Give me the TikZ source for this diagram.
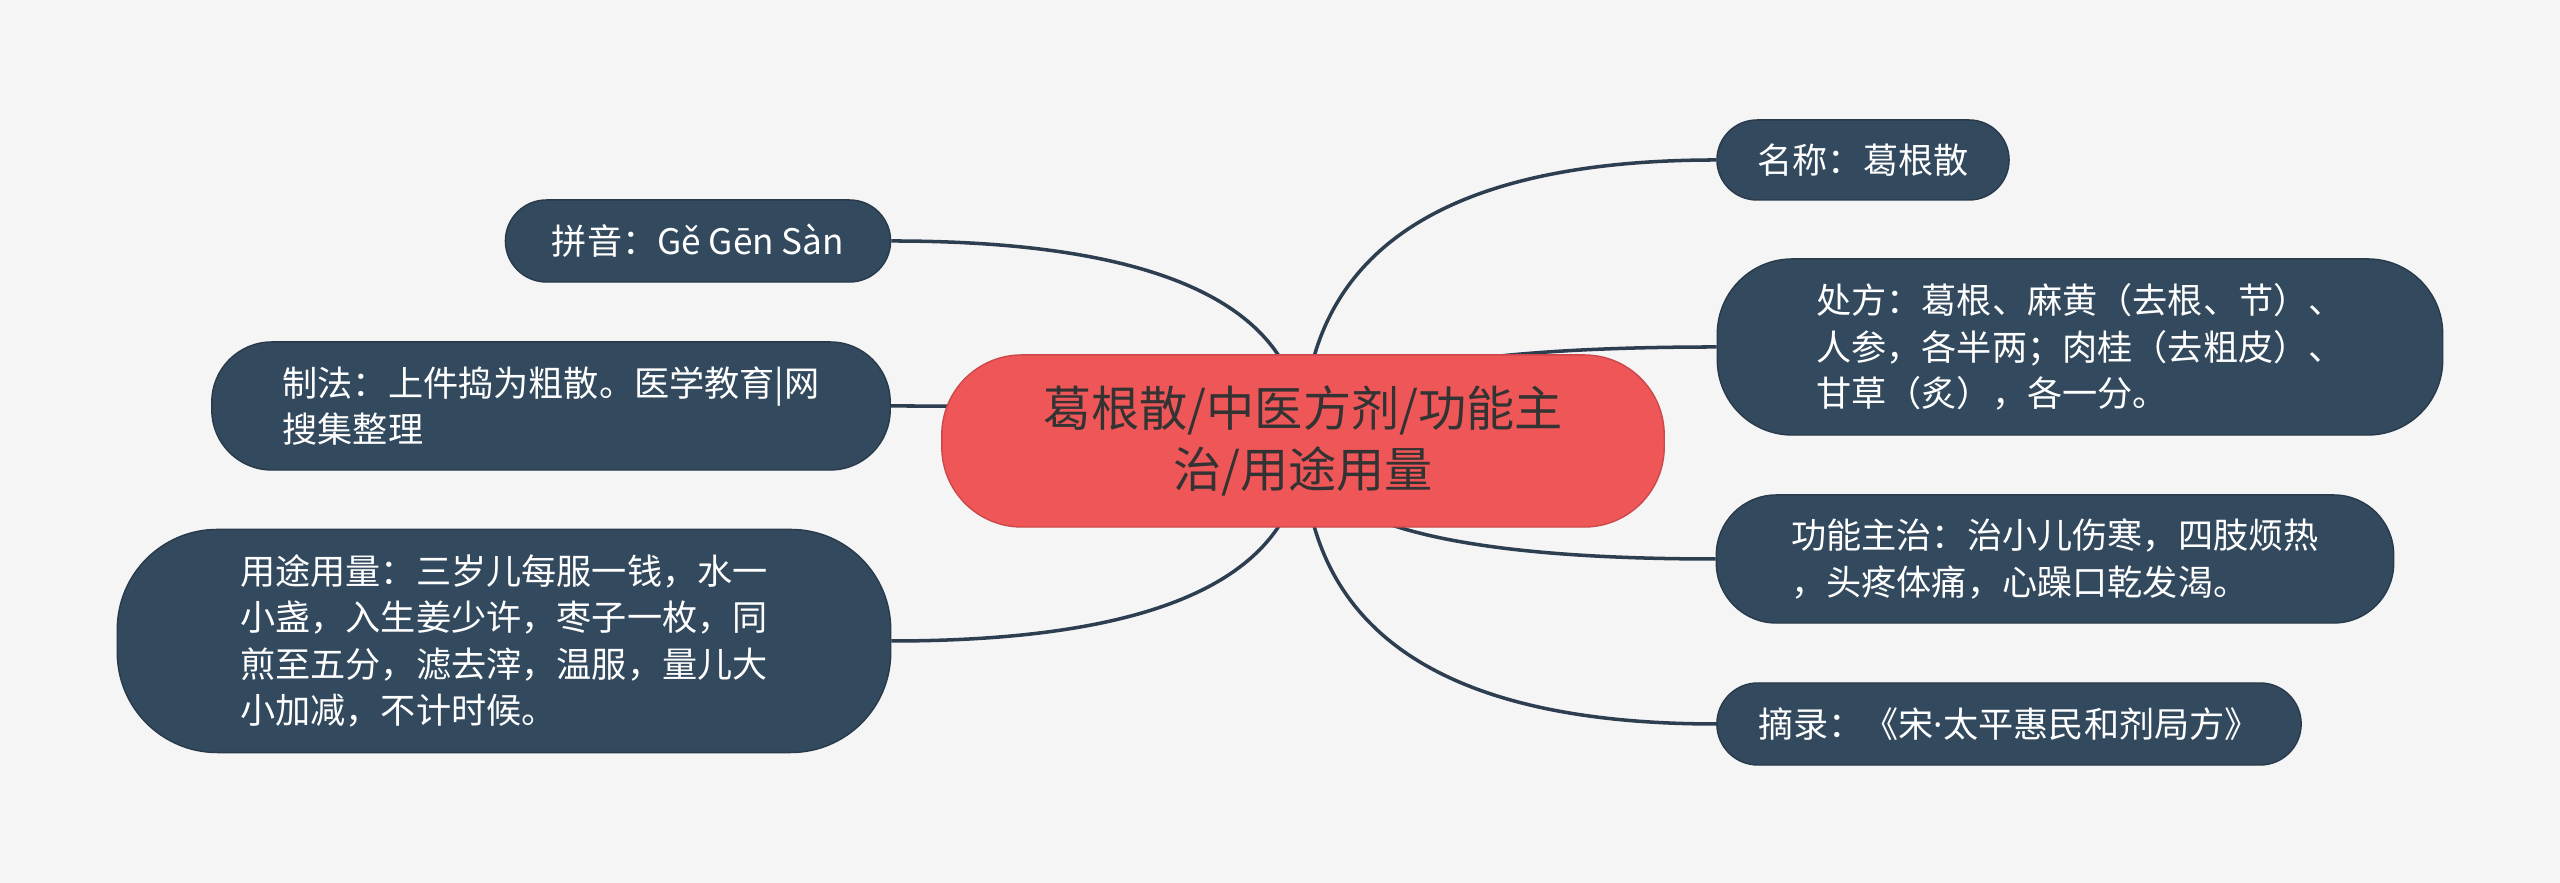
\documentclass[tikz,border=0pt]{standalone}
\usepackage{fontspec}
\newfontfamily\cjk{Noto Sans CJK SC}
\newfontfamily\latn{Noto Sans}
\usetikzlibrary{calc}
\definecolor{pageBg}{RGB}{245,245,245}
\definecolor{rootR}{RGB}{239,86,88}
\definecolor{leafB}{RGB}{50,73,94}
\definecolor{linkB}{RGB}{44,62,80}
\definecolor{inkG}{RGB}{51,51,51}
\pgfdeclarelayer{bg}
\pgfdeclarelayer{links}
\pgfsetlayers{bg,links,main}

\begin{document}
\begin{tikzpicture}[x=0.01cm,y=0.01cm,
  root/.style={fill=rootR, draw=rootR!85!black, text=inkG, align=center,
    font=\cjk\fontsize{13.7}{17.6}\selectfont, inner sep=0pt},
  leaf/.style={fill=leafB, draw=leafB!80!black, text=white, align=left,
    font=\cjk\fontsize{10}{13.2}\selectfont, inner sep=0pt},
  link/.style={linkB, line width=1pt}]
  % canvas: 2560 x 883 px, 1 px = 0.01cm
  \useasboundingbox (0,0) rectangle (2560,883);
  \begin{pgfonlayer}{bg}
    \fill[pageBg] (0,0) rectangle (2560,883);
  \end{pgfonlayer}

  % central topic
  \node[root, minimum width=7.22cm, minimum height=1.72cm, rounded corners=0.8cm] (root) at (1303,442)
    {葛根散/中医方剂/功能主\\治/用途用量};

  % right branches
  \node[leaf, minimum width=2.92cm, minimum height=0.8cm, rounded corners=0.4cm] (name) at (1863,723)
    {名称：葛根散};
  \node[leaf, minimum width=7.25cm, minimum height=1.76cm, rounded corners=0.75cm] (recipe) at (2080,536)
    {处方：葛根、麻黄（去根、节）、\\人参，各半两；肉桂（去粗皮）、\\甘草（炙），各一分。};
  \node[leaf, minimum width=6.77cm, minimum height=1.28cm, rounded corners=0.6cm] (effect) at (2055,324)
    {功能主治：治小儿伤寒，四肢烦热\\，头疼体痛，心躁口乾发渴。};
  \node[leaf, minimum width=5.84cm, minimum height=0.82cm, rounded corners=0.41cm] (source) at (2009,159)
    {摘录：《宋{\latn ·}太平惠民和剂局方》};

  % left branches
  \node[leaf, minimum width=3.85cm, minimum height=0.82cm, rounded corners=0.41cm] (pinyin) at (698,642)
    {拼音：Gě Gēn Sàn};
  \node[leaf, minimum width=6.78cm, minimum height=1.28cm, rounded corners=0.6cm] (method) at (551,477)
    {制法：上件捣为粗散。医学教育|网\\搜集整理};
  \node[leaf, minimum width=7.73cm, minimum height=2.23cm, rounded corners=1cm] (usage) at (504,242)
    {用途用量：三岁儿每服一钱，水一\\小盏，入生姜少许，枣子一枚，同\\煎至五分，滤去滓，温服，量儿大\\小加减，不计时候。};

  % curved links from the centre, behind the boxes
  \begin{pgfonlayer}{links}
    \foreach \kid/\side in {name/west,recipe/west,effect/west,source/west,pinyin/east,method/east,usage/east}
      \draw[link] (root.center)
        .. controls ($(root.center)!2/3!(root.center |- \kid.\side)$)
        and ($(\kid.\side)!2/3!(root.center |- \kid.\side)$) .. (\kid.\side);
  \end{pgfonlayer}
\end{tikzpicture}
\end{document}
